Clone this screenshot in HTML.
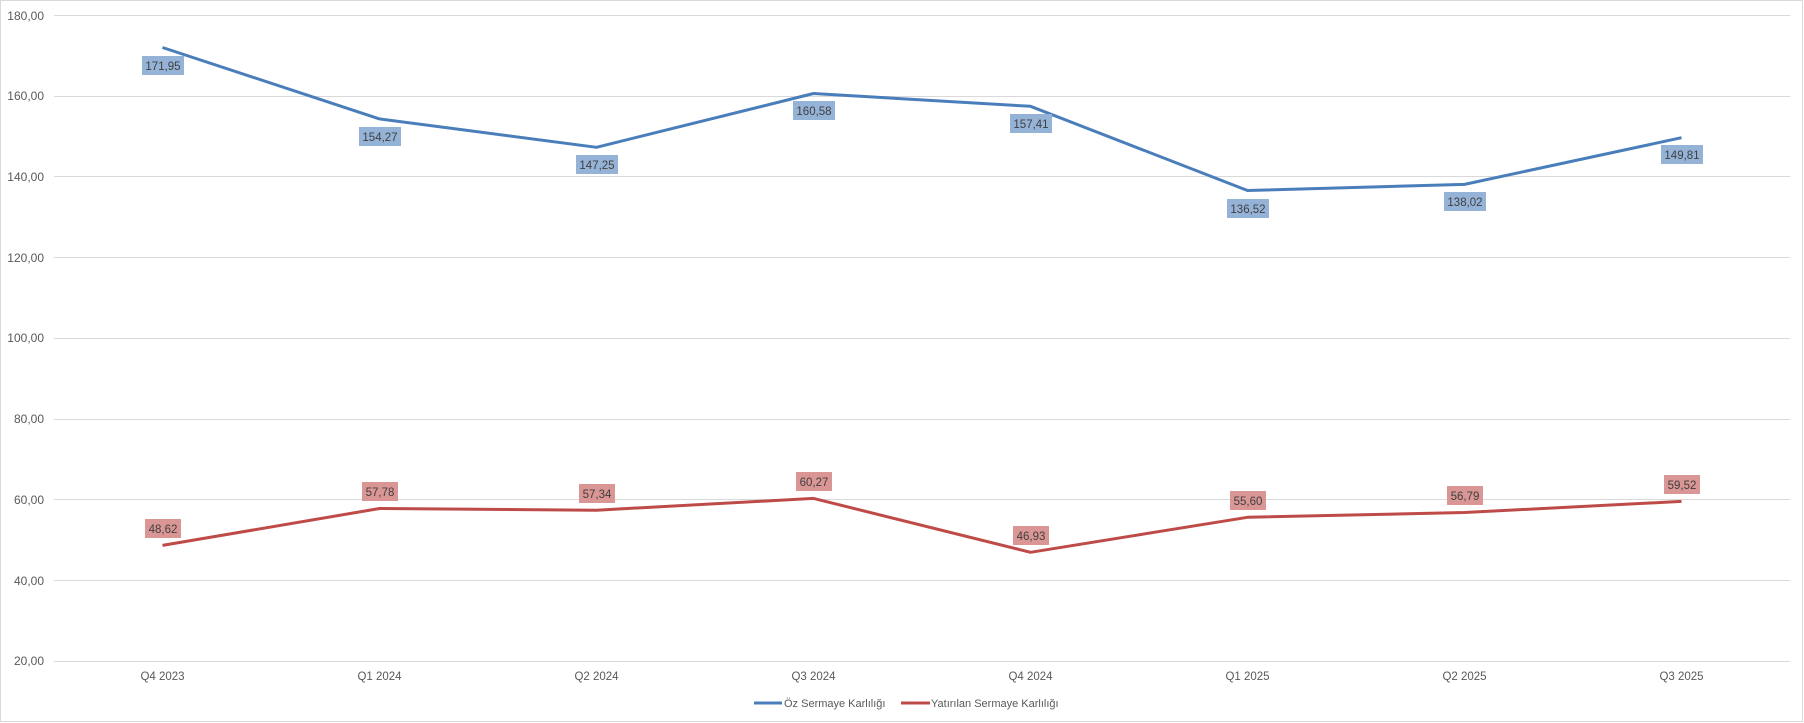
<!DOCTYPE html>
<html><head><meta charset="utf-8"><style>
html,body{margin:0;padding:0;background:#fff;}
svg{display:block;font-family:"Liberation Sans",sans-serif;}
</style></head><body>
<svg width="1804" height="723" viewBox="0 0 1804 723">
<rect x="0.5" y="0.5" width="1802" height="721" fill="#fff" stroke="#d9d9d9"/>
<g stroke="#d9d9d9" stroke-width="1">
<line x1="54" x2="1790" y1="15.5" y2="15.5"/>
<line x1="54" x2="1790" y1="96.5" y2="96.5"/>
<line x1="54" x2="1790" y1="176.5" y2="176.5"/>
<line x1="54" x2="1790" y1="257.5" y2="257.5"/>
<line x1="54" x2="1790" y1="338.5" y2="338.5"/>
<line x1="54" x2="1790" y1="419.5" y2="419.5"/>
<line x1="54" x2="1790" y1="499.5" y2="499.5"/>
<line x1="54" x2="1790" y1="580.5" y2="580.5"/>
<line x1="54" x2="1790" y1="661.5" y2="661.5"/>
</g>
<g font-size="12" fill="#595959" text-anchor="end">
<text x="44" y="20">180,00</text>
<text x="44" y="100">160,00</text>
<text x="44" y="181">140,00</text>
<text x="44" y="262">120,00</text>
<text x="44" y="342">100,00</text>
<text x="44" y="423">80,00</text>
<text x="44" y="504">60,00</text>
<text x="44" y="585">40,00</text>
<text x="44" y="665">20,00</text>
</g>
<g font-size="11.5" fill="#595959" text-anchor="middle">
<text x="162.5" y="680">Q4 2023</text>
<text x="379.5" y="680">Q1 2024</text>
<text x="596.5" y="680">Q2 2024</text>
<text x="813.5" y="680">Q3 2024</text>
<text x="1030.5" y="680">Q4 2024</text>
<text x="1247.5" y="680">Q1 2025</text>
<text x="1464.5" y="680">Q2 2025</text>
<text x="1681.5" y="680">Q3 2025</text>
</g>
<polyline fill="none" stroke="#4a7ebb" stroke-width="3" stroke-linejoin="round" points="162.5,47.5 379.5,118.9 596.5,147.3 813.5,93.5 1030.5,106.3 1247.5,190.5 1464.5,184.4 1681.5,137.7"/>
<polyline fill="none" stroke="#be4b48" stroke-width="3" stroke-linejoin="round" points="162.5,545.4 379.5,508.5 596.5,510.2 813.5,498.4 1030.5,552.3 1247.5,517.3 1464.5,512.5 1681.5,501.4"/>
<g font-size="11.5" fill="#404040" text-anchor="middle">
<rect x="142" y="56" width="42" height="19" fill="#95b3d7"/><text x="163" y="70">171,95</text>
<rect x="359" y="127" width="42" height="19" fill="#95b3d7"/><text x="380" y="141">154,27</text>
<rect x="576" y="155" width="42" height="19" fill="#95b3d7"/><text x="597" y="169">147,25</text>
<rect x="793" y="101" width="42" height="19" fill="#95b3d7"/><text x="814" y="115">160,58</text>
<rect x="1010" y="114" width="42" height="19" fill="#95b3d7"/><text x="1031" y="128">157,41</text>
<rect x="1227" y="199" width="42" height="19" fill="#95b3d7"/><text x="1248" y="213">136,52</text>
<rect x="1444" y="192" width="42" height="19" fill="#95b3d7"/><text x="1465" y="206">138,02</text>
<rect x="1661" y="145" width="42" height="19" fill="#95b3d7"/><text x="1682" y="159">149,81</text>
<rect x="145" y="519" width="36" height="19" fill="#d99694"/><text x="163" y="533">48,62</text>
<rect x="362" y="482" width="36" height="19" fill="#d99694"/><text x="380" y="496">57,78</text>
<rect x="579" y="484" width="36" height="19" fill="#d99694"/><text x="597" y="498">57,34</text>
<rect x="796" y="472" width="36" height="19" fill="#d99694"/><text x="814" y="486">60,27</text>
<rect x="1013" y="526" width="36" height="19" fill="#d99694"/><text x="1031" y="540">46,93</text>
<rect x="1230" y="491" width="36" height="19" fill="#d99694"/><text x="1248" y="505">55,60</text>
<rect x="1447" y="486" width="36" height="19" fill="#d99694"/><text x="1465" y="500">56,79</text>
<rect x="1664" y="475" width="36" height="19" fill="#d99694"/><text x="1682" y="489">59,52</text>
</g>
<line x1="754" x2="782" y1="703" y2="703" stroke="#4a7ebb" stroke-width="3"/>
<text x="784" y="707" font-size="11" fill="#595959">Öz Sermaye Karlılığı</text>
<line x1="901" x2="930" y1="703" y2="703" stroke="#be4b48" stroke-width="3"/>
<text x="931" y="707" font-size="11" fill="#595959">Yatırılan Sermaye Karlılığı</text>
</svg>
</body></html>
